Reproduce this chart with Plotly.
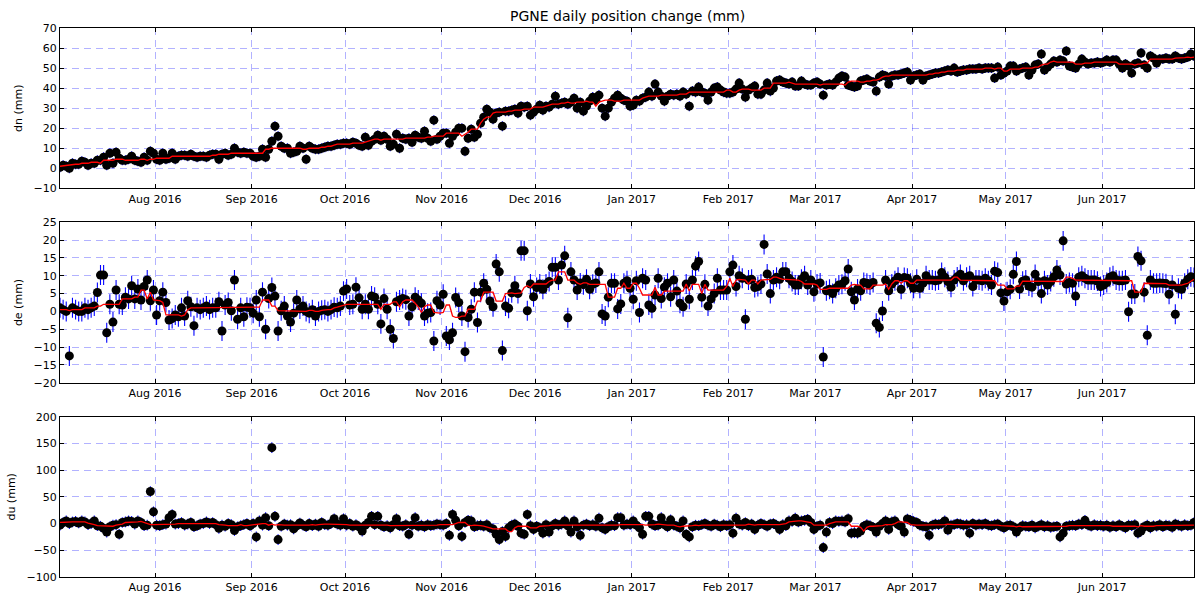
import pandas as pd
import plotly.graph_objects as go

# ---------------- data (daily solutions, 2016-07-01 .. 2017-06-30) ----------------
dn_jul = [0.5,1.5,1,0,2.5,2,2,3.5,3,1.5, 2.5,2.5,4,4,5.5,1.5,7.5,2.5,8,5, 4,4,4.5,6,4,3.5,3,5.5,4,8.5, 7.5]
dn_aug = [4.5,4,7.5,4.5,5,7.5,4.5,6,6.5,6.5, 6,7,6,5.5,6,6,5.5,6.5,7,7, 4.5,7,7.5,6.5,7,10,8,7.5,8,7.5, 7.5]
dn_sep = [6,5.5,6,9.5,5.5,9.5,13.5,21,16,11, 10,10,7.5,8,8.5,11,10,4.5,11,10, 9.5,9.5,10,10.5,11,11,11.5,12,12,12.5]
dn_oct = [12.5,12,13,12.5,11.5,11,15.5,11.5,13.5,14.5, 16.5,14,16,14.5,11,12,17,10,15,14.5, 15,13,16.5,15.5,15,18.5,15,13.5,24,14.5, 16]
dn_nov = [17.5,17.5,12.5,16,18,20,20,8.5,15,19.5, 15.5,17,22.5,25.5,29.5,28,24.5,27.5,28,21, 28.5,28.5,29,29.5,27.5,31,30.5,31,26.5,28]
dn_dec = [29.5,31.5,29,31,30.5,32,36,32,32.5,33, 32,33,35,30,33,28.5,31,33.5,35.5,34, 36.5,30,26,30,33,35,36.5,35,34,33.5, 31]
dn_jan = [31.5,34,33.5,35,35.5,38,36,42,38,36, 33.5,36,37,36.5,37,36,38,37,31,38.5, 38,40.5,38,37.5,34,38,40,40.5,39,38, 37.5]
dn_feb = [37.5,38,39.5,42.5,39.5,35.5,39,40,41,37, 37,39,42.5,38.5,40,43.5,44,43,42.5,42, 43,41,41,43.5,42,41.5,41.5,42.5]
dn_mar = [43,42,36.5,41.5,42,41.5,43,45,46,45.5, 41.5,41,40.5,41,43.5,44,44.5,43.5,43,38.5, 45.5,46.5,46,42,46,46.5,46.5,47,47.5,48, 44]
dn_apr = [46,46.5,47,44,46,46.5,47,47.5,47.5,48, 48.5,49,48.5,50,48,48.5,49,49,49.5,49.5, 49.5,50,49.5,50,50,50,45,50.5,46.5,47.5]
dn_may = [48.5,51,51,48.5,49.5,50,50.5,46.5,49,51.5, 52,57,49,50.5,52,53.5,53,54,53.5,58.5, 51,50.5,50,52,54.5,53,52,52.5,52.5,53, 52.5]
dn_jun = [53,54,53,54,54,52,50,52,51,47.5, 52,52.5,57.5,51.5,50,56,55,52.5,54.5,54.5, 55,54.5,54.5,56,55,54.5,55,55.5,57,56]

de_jul = [1,0.5,0,-12.5,1,0.5,0,0,1,0.5, 1,1.5,5.3,10.2,10.2,-6,2,-3,6,2, 1.8,4,3.5,7.2,3.5,6.3,3.2,7,8.8,3, 6]
de_aug = [-1,3,5.4,2.5,-2.4,-2,-1,-1.5,1,-1.3, 3,1.3,-4,1,0.5,1,1.5,0.5,1,1, 2.7,-5.5,1.8,2.5,0.2,8.8,-2.2,1,-1.5,1.2, 1]
de_sep = [-0.5,3.2,-1.5,5.4,-5,3.6,6.7,4.3,-5.5,0.2, 1.5,-1.3,-3,-0.5,3.2,0.7,1.5,0,-0.5,0.5, -1.3,0,0.3,0.5,0,0.5,1.2,1,1.5,5.7]
de_oct = [6.3,1.8,2,6.8,3.8,0.6,2,0.6,4.3,4, 2,-3.5,3.6,0.6,-5,-7.6,2.7,3.2,3.6,3.3, -1.3,1.3,4,3.2,2.3,-1.3,-0.5,-0.3,-8.3,3, 1.8]
de_nov = [4.8,-6.9,-8,-6,3.9,2.5,-1.3,-11.3,-1.7,0.6, 5.4,-3.1,5.4,7.9,6.2,2.9,1.3,13.3,11.1,-11, 1.5,0.9,5.2,7.2,5,17,17,0.2,7.7,4.1]
de_dec = [6.7,7.7,6.2,7.7,8.4,12.4,12.4,8.8,13,15.6, -1.8,11.1,8.8,6,8,7.5,9,6.2,7.6,8, 11.1,-0.7,-1.3,4,7.9,7.9,0.7,2.1,7.9,8.6, 6.5]
de_jan = [3.4,8.6,-0.3,9.3,8.8,1.8,0.9,4.6,9.3,3.6, 6.8,7.9,4.1,8.8,5.7,2.3,1.3,7.7,3.4,8.8, 12.7,14,4,7.6,1.5,3.5,5,9.3,6,6, 6]
de_feb = [11.1,13,7,10,9.3,-2.2,8.8,9,6.7,7, 7.7,18.8,10.5,5,8.8,9.6,9,11.1,11.1,9.3, 8.4,7.4,7.4,9,10,7.4,8.8,5.5]
de_mar = [7.7,8,-12.8,5.8,6.2,5,6.5,7.4,7.6,8.6, 11.9,5.5,3.2,6.3,5.8,8.1,7.9,7.4,8.1,-3.3, -4.5,0.1,8.8,5.8,7.7,8.6,9.6,6.2,9.5,9.3, 7.9]
de_apr = [6.5,9,6.5,7.9,10,8.8,8.8,8.6,8.8,10.9, 9.6,8.4,6.8,8.8,9.7,10.4,8.6,9.6,10,7, 8.8,8.8,8.6,9.3,8.6,7.4,11.3,10.9,5.2,2.9]
de_may = [5.5,6.2,10.4,14,6.3,8.5,8.8,7.1,6.8,10.4, 8.4,5,8.6,7.4,8.4,9.7,11.6,10.2,19.8,7.7, 8.1,7.9,4.3,9.6,10,9.3,8.8,8.8,8.8,8.5, 7]
de_jun = [7.4,8.1,9.6,10,8.8,8.6,8.6,8.8,-0.1,4.9, 4.9,15.4,14.2,5.4,-6.7,8.8,7.9,7.9,8,7.9, 7.8,4.8,7.4,-0.8,6.5,6.2,7.9,9,9.7,9.5]

du_jul = [-3,2,5,0,3,4,1,5,3,-2, 0,5,-4,-5,-9,-16,-6,-3,-2,-20, 2,3,5,4,-1,5,2,-4,-3,60, 22]
du_aug = [-3,-4,-2,-1,11,17,-1,0,2,-3, -1,2,-6,-4,-1,0,3,0,2,-2, -9,-3,-5,0,-2,-13,-6,-4,-2,0, -4]
du_sep = [0,-25,5,-3,11,-4,142,13.5,-30,-5, -1,-3,-2,-10,-4,1,-3,-6,0,-4, -1,-5,2,-2,-3,0,9,-1,-3,9]
du_oct = [-3,0,-5,-2,-6,-14,-3,2,13.5,-2, 13.5,-3,-6,-4,-8,-2,9,-4,-5,-2, -20,-3,11,-5,-3,-6,-2,-4,-3,-1, -2]
du_nov = [-3,0,-22,17,6,-4,-24,2,6,5, -6,-4,-3,-5,-2,-8,-10,-20,-30,-15, -24,-8,-3,-1,-5,-18,-20,17,-4,-11]
du_dec = [-5,-8,-18,-2,-16,-4,0,-3,-1,5, -4,-16,5,-6,-22,-3,-1,-4,-2,-5, 10,-8,-11,-6,-3,-4,11,11,-3,-1, -2]
du_jan = [5,-3,-8,-20,13.5,13.5,-1,-4,-3,11, -2,-6,7,-3,-5,-8,5,-20,-25,-6, -3,-4,-2,0,-3,-5,-1,-3,-6,-2, -4]
du_feb = [-2,-18,10,-1,-3,2,-4,-1,-11,-3, 0,-2,-5,-1,0,-3,-11,-2,-4,5, 4,10,3,5,6,8,2,-11]
du_mar = [-5,-3,-45,-16,2,0,5,4,5,3, 9,-18,-17,-18,-14,-5,-2,-4,-7,-16, -5,0,5,-11,3,5,-2,-5,-16,8.5, 6]
du_apr = [4,2,-3,-5,-6,-22,-3,-1,-2,0, 5,-12,-3,-2,0,-1,-3,-2,-18,0, -3,-1,-2,0,-3,-4,-2,-1,-5,-8]
du_may = [-4,-3,-6,-16,-8,-4,-5,-6,-3,-8, -5,-2,-6,-4,-7,-6,-5,-25,-18,-5, -4,-3,-4,-1,-2,6,-3,-5,-2,-4, -3]
du_jun = [-5,-3,-7,-4,-6,-2,-5,-8,-3,-4, -2,-18,-14,-6,-3,-8,-4,-5,-2,-6, -3,-4,-7,-1,-3,-5,-2,-4,-3,2]

# typical 1-sigma error bar per component (mm)
err_dn = 2.5
err_de = 2.8
err_du = 10

dn = dn_jul + dn_aug + dn_sep + dn_oct + dn_nov + dn_dec + dn_jan + dn_feb + dn_mar + dn_apr + dn_may + dn_jun
de = de_jul + de_aug + de_sep + de_oct + de_nov + de_dec + de_jan + de_feb + de_mar + de_apr + de_may + de_jun
du = du_jul + du_aug + du_sep + du_oct + du_nov + du_dec + du_jan + du_feb + du_mar + du_apr + du_may + du_jun

dates = pd.date_range("2016-07-01 12:00", periods=len(dn), freq="D")

title = "PGNE daily position change (mm)"
ylabels = ["dn (mm)", "de (mm)", "du (mm)"]
yranges = [[-10, 70], [-20, 25], [-100, 200]]
ydticks = [10, 5, 50]
series = [dn, de, du]
errs = [err_dn, err_de, err_du]

# ---------------- figure ----------------
FONT = "DejaVu Sans"
GRID = "rgba(0,0,255,0.30)"
domains = [[0.708, 1.0], [0.354, 0.646], [0.0, 0.292]]

fig = go.Figure()
for i, (vals, err) in enumerate(zip(series, errs)):
    ax = "" if i == 0 else str(i + 1)
    s = pd.Series(vals, index=dates)
    smooth = s.rolling(9, center=True, min_periods=1).median()
    fig.add_trace(go.Scatter(
        x=dates, y=vals, mode="markers", xaxis="x" + ax, yaxis="y" + ax,
        marker=dict(color="black", size=9, line=dict(width=0)),
        error_y=dict(type="constant", value=err, color="blue", thickness=1.1, width=0),
        showlegend=False, hoverinfo="skip"))
    fig.add_trace(go.Scatter(
        x=dates, y=smooth.values, mode="lines", xaxis="x" + ax, yaxis="y" + ax,
        line=dict(color="red", width=1.3), showlegend=False, hoverinfo="skip"))

    common = dict(showline=True, linecolor="black", linewidth=1, mirror="ticks",
                  ticks="inside", ticklen=4, tickcolor="black", automargin=False,
                  showgrid=True, gridcolor=GRID, gridwidth=1, griddash="7px,5px",
                  zeroline=False, tickfont=dict(family=FONT, size=11, color="black"))
    fig.layout["xaxis" + ax] = dict(
        common, type="date", anchor="y" + ax,
        range=[dates[0], dates[-1]], tickformat="%b %Y", dtick="M1", tick0="2016-08-01")
    fig.layout["yaxis" + ax] = dict(
        common, anchor="x" + ax, domain=domains[i], range=yranges[i], dtick=ydticks[i],
        title=dict(text=ylabels[i], font=dict(family=FONT, size=11, color="black"), standoff=8))

fig.add_annotation(text=title, xref="paper", yref="paper", x=0.5, y=1.0,
                   xanchor="center", yanchor="bottom", yshift=2, showarrow=False,
                   font=dict(family=FONT, size=14, color="black"))

fig.update_layout(width=1197, height=596, margin=dict(l=60, r=3, t=28, b=19),
                  paper_bgcolor="white", plot_bgcolor="white",
                  font=dict(family=FONT, size=11, color="black"))

fig.write_html("out.html", config={"displayModeBar": False},
               post_script="document.body.style.margin='0px';document.body.style.overflow='hidden';")
